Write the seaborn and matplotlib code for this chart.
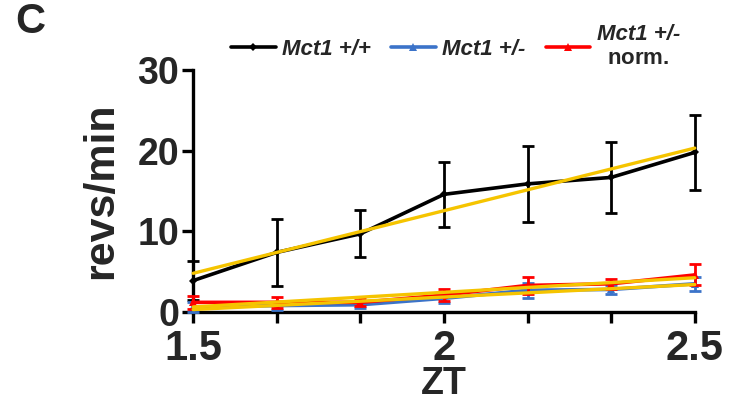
import numpy as np
import pandas as pd
import seaborn as sns
import matplotlib
matplotlib.use("Agg")
import matplotlib.pyplot as plt
from matplotlib.lines import Line2D

# ---- data ----
zt = [1.5, 1.6667, 1.8333, 2.0, 2.1667, 2.3333, 2.5]
wt_mean = [3.9, 7.4, 9.7, 14.6, 15.9, 16.7, 19.8]
wt_err = [2.4, 4.2, 2.9, 4.0, 4.7, 4.4, 4.7]
het_mean = [0.6, 0.8, 0.9, 1.7, 2.7, 2.8, 3.5]
het_err = [0.6, 0.5, 0.4, 0.6, 0.9, 0.6, 0.9]
norm_mean = [1.2, 1.2, 1.2, 2.1, 3.3, 3.5, 4.6]
norm_err = [0.8, 0.7, 0.5, 0.7, 1.1, 0.6, 1.3]
series_labels = ["Mct1 +/+", "Mct1 +/-", "Mct1 +/-\n$\\mathbf{norm.}$"]
xtick_vals = [1.5, 2.0, 2.5]
xtick_labels = ["1.5", "2", "2.5"]
ytick_vals = [0, 10, 20, 30]

sns.set_theme(style="white")
plt.rcParams['font.family'] = ['Liberation Sans', 'DejaVu Sans']
plt.rcParams['mathtext.fontset'] = 'custom'
plt.rcParams['mathtext.bf'] = 'Liberation Sans:bold'
plt.rcParams['mathtext.rm'] = 'Liberation Sans'

fig = plt.figure(figsize=(7.29, 4.05), dpi=100)
ax = fig.add_axes([0.265, 0.2296, 0.688, 0.597])

colors = ["#000000", "#3b73c9", "#ff0000"]
markers = ["D", "^", "^"]
msizes = [4, 6, 6]
means = [wt_mean, het_mean, norm_mean]
errs = [wt_err, het_err, norm_err]

df = pd.DataFrame({
    "ZT": zt * 3,
    "val": wt_mean + het_mean + norm_mean,
    "grp": ["wt"] * 7 + ["het"] * 7 + ["norm"] * 7,
})
grp_names = ["wt", "het", "norm"]

for i in range(3):
    c = colors[i]
    ax.errorbar(zt, means[i], yerr=errs[i], fmt="none", ecolor=c,
                elinewidth=2, capsize=4, capthick=2, clip_on=False, zorder=2 + i)
    sub = df[df["grp"] == grp_names[i]]
    sns.lineplot(data=sub, x="ZT", y="val", ax=ax, color=c, lw=2.6,
                 marker=markers[i], markersize=msizes[i], markeredgewidth=0,
                 legend=False, zorder=3 + i, clip_on=False)

for i in range(3):
    sub = df[df["grp"] == grp_names[i]]
    sns.regplot(data=sub, x="ZT", y="val", ax=ax, scatter=False, ci=None,
                truncate=True, color="#f5c400",
                line_kws={"lw": 2.4, "zorder": 8, "clip_on": False})

ax.set_xlim(1.5, 2.5)
ax.set_ylim(0, 30)
ax.set_xticks(zt)
ax.set_xticklabels([xtick_labels[xtick_vals.index(round(v, 2))] if round(v, 2) in xtick_vals else "" for v in zt])
ax.set_yticks(ytick_vals)
ax.set_yticklabels([str(v) for v in ytick_vals])

for s in ["top", "right"]:
    ax.spines[s].set_visible(False)
for s in ["left", "bottom"]:
    ax.spines[s].set_color("black")
    ax.spines[s].set_linewidth(2.4)
ax.tick_params(axis="both", which="both", direction="out", length=8, width=2.4,
               color="black", labelsize=27, pad=2, bottom=True, left=True)
ax.tick_params(axis="x", labelsize=30, pad=4)
for lab in ax.get_xticklabels() + ax.get_yticklabels():
    lab.set_fontweight("bold")
    lab.set_fontstyle("normal")

ax.set_xlabel("ZT", fontsize=27, fontweight="bold", fontstyle="normal", labelpad=-2)
ax.set_ylabel("revs/min", fontsize=31, fontweight="bold", fontstyle="normal", labelpad=12)
ax.grid(False)

handles = [Line2D([0], [0], color=colors[i], lw=2.6, marker=markers[i],
                  markersize=msizes[i], markeredgewidth=0) for i in range(3)]
leg = fig.legend(handles, series_labels, loc="center", bbox_to_anchor=(0.625, 0.885),
                 ncol=3, frameon=False, handlelength=2.0, handletextpad=0.3,
                 columnspacing=0.9, prop={"size": 16, "weight": "bold", "style": "italic"})
for t in leg.get_texts():
    t.set_multialignment("center")

fig.text(0.042, 0.945, "C", fontsize=30, fontweight="bold", ha="center", va="center")

fig.savefig("out.png", dpi=100)
